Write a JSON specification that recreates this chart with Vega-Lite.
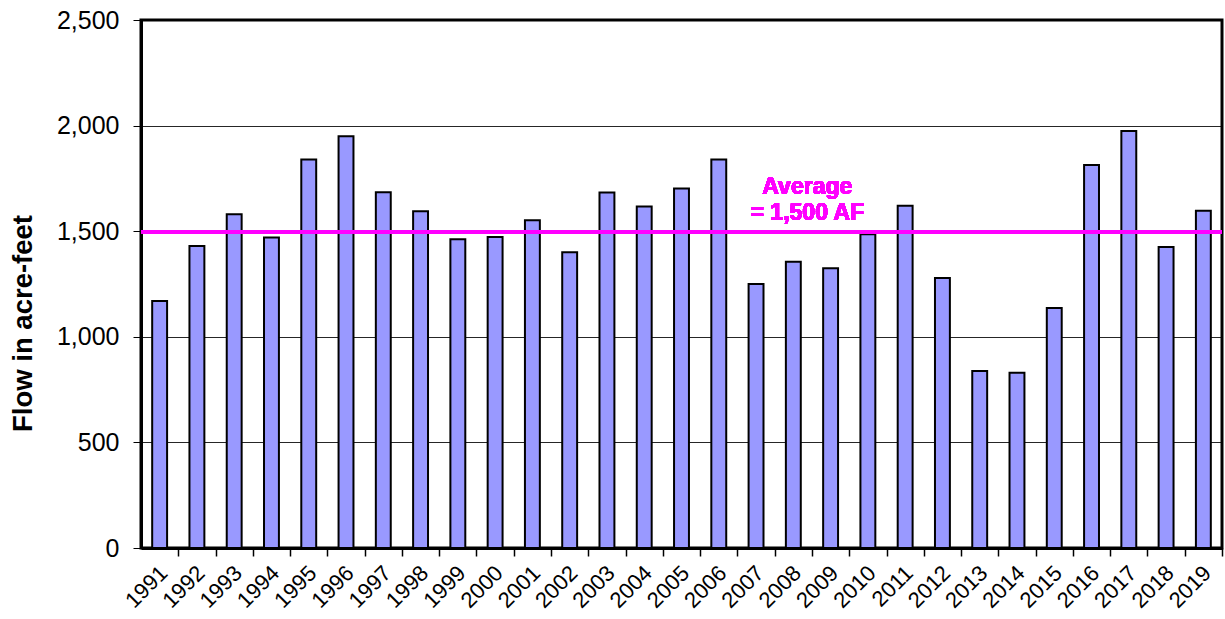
{
  "$schema": "https://vega.github.io/schema/vega-lite/v6.json",
  "width": 1081,
  "height": 528,
  "autosize": {"type": "none"},
  "padding": {"left": 141, "top": 20, "right": 3, "bottom": 71},
  "background": "white",
  "config": {
    "font": "Liberation Sans",
    "view": {"stroke": "black", "strokeWidth": 3}
  },
  "data": {
    "values": [
      {"year": "1991", "flow": 1170},
      {"year": "1992", "flow": 1430},
      {"year": "1993", "flow": 1580},
      {"year": "1994", "flow": 1470},
      {"year": "1995", "flow": 1840},
      {"year": "1996", "flow": 1950},
      {"year": "1997", "flow": 1685},
      {"year": "1998", "flow": 1595},
      {"year": "1999", "flow": 1462},
      {"year": "2000", "flow": 1472},
      {"year": "2001", "flow": 1552},
      {"year": "2002", "flow": 1400},
      {"year": "2003", "flow": 1683},
      {"year": "2004", "flow": 1617},
      {"year": "2005", "flow": 1702},
      {"year": "2006", "flow": 1840},
      {"year": "2007", "flow": 1250},
      {"year": "2008", "flow": 1355},
      {"year": "2009", "flow": 1325},
      {"year": "2010", "flow": 1485},
      {"year": "2011", "flow": 1620},
      {"year": "2012", "flow": 1278},
      {"year": "2013", "flow": 838},
      {"year": "2014", "flow": 830},
      {"year": "2015", "flow": 1136},
      {"year": "2016", "flow": 1813},
      {"year": "2017", "flow": 1974},
      {"year": "2018", "flow": 1425},
      {"year": "2019", "flow": 1597}
    ]
  },
  "layer": [
    {
      "mark": {"type": "bar", "fill": "#9999FF", "stroke": "black", "strokeWidth": 2},
      "encoding": {
        "x": {
          "field": "year",
          "type": "ordinal",
          "scale": {"paddingInner": 0.6, "paddingOuter": 0.3},
          "axis": {
            "title": null,
            "labelAngle": -45,
            "labelFontSize": 22,
            "labelColor": "black",
            "labelPadding": 6,
            "tickOffset": 18.64,
            "labelOffset": -22,
            "tickSize": 8,
            "tickColor": "black",
            "tickWidth": 1.5,
            "domainColor": "black",
            "domainWidth": 3,
            "grid": false
          }
        },
        "y": {
          "field": "flow",
          "type": "quantitative",
          "scale": {"domain": [0, 2500], "nice": false},
          "axis": {
            "title": "Flow in acre-feet",
            "titleFontSize": 27.5,
            "titleFontWeight": "bold",
            "titleColor": "black",
            "titlePadding": 19,
            "titleY": 303,
            "titleAlign": "center",
            "values": [0, 500, 1000, 1500, 2000, 2500],
            "format": ",d",
            "labelFontSize": 25,
            "labelColor": "black",
            "labelPadding": 14,
            "tickSize": 8,
            "tickColor": "black",
            "tickWidth": 1,
            "domainColor": "black",
            "domainWidth": 3,
            "grid": true,
            "gridColor": "black",
            "gridWidth": 1,
            "gridOpacity": 0.85
          }
        }
      }
    },
    {
      "mark": {"type": "rule", "color": "#FF00FF", "strokeWidth": 3},
      "encoding": {"y": {"datum": 1497}}
    },
    {
      "mark": {
        "type": "text",
        "color": "#FF00FF",
        "fontSize": 23,
        "fontWeight": "bold",
        "align": "center",
        "baseline": "middle",
        "lineHeight": 26,
        "dx": 14
      },
      "encoding": {
        "x": {"datum": "2008"},
        "y": {"datum": 1710},
        "text": {"value": ["Average", "= 1,500 AF"]}
      }
    }
  ]
}
